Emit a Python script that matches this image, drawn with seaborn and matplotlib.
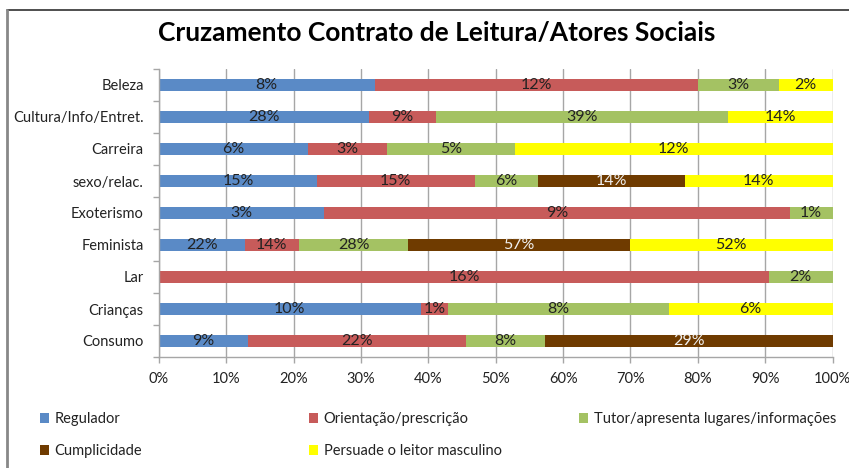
import numpy as np
import pandas as pd
import matplotlib
matplotlib.use("Agg")
import matplotlib.pyplot as plt
from matplotlib.lines import Line2D
from matplotlib.patches import Patch
import seaborn as sns

# Categories (top to bottom) and the share of each social actor, in %
categorias = ["Beleza", "Cultura/Info/Entret.", "Carreira", "sexo/relac.", "Exoterismo",
              "Feminista", "Lar", "Crianças", "Consumo"]
series = ["Regulador", "Orientação/prescrição", "Tutor/apresenta lugares/informações",
          "Cumplicidade", "Persuade o leitor masculino"]

regulador    = [8, 28, 5.8, 15, 3.3, 22, 0, 9.6, 9]
orientacao   = [12, 9, 3.1, 15, 9.3, 14, 16.3, 1.0, 22]
tutor        = [3, 39, 5.0, 6, 0.85, 28, 1.7, 8.1, 8]
cumplicidade = [0, 0, 0, 14, 0, 57, 0, 0, 29]
persuade     = [2, 14, 12.4, 14, 0, 52, 0, 6.0, 0]

cores = ["#5A8AC6", "#C75B5A", "#A4C263", "#6F3B00", "#FFFF00"]
cor_texto = ["#222222", "#222222", "#222222", "#F0F0F0", "#222222"]
x_ticks = [0, 10, 20, 30, 40, 50, 60, 70, 80, 90, 100]

valores = np.array([regulador, orientacao, tutor, cumplicidade, persuade], dtype=float)
percent = valores / valores.sum(axis=0) * 100          # each row stacked to 100 %
acumulado = np.cumsum(percent, axis=0)

sns.set_style("white")
plt.rcParams["font.family"] = ["Lato", "DejaVu Sans"]

fig = plt.figure(figsize=(8.49, 4.68), dpi=100)
W, H = 849, 468
ax = fig.add_axes([159 / W, (H - 357) / H, (832.5 - 159) / W, (357 - 69) / H])

# stacked bars: draw the cumulative totals from the last series to the first
for k in range(len(series) - 1, -1, -1):
    df = pd.DataFrame({"categoria": categorias, "acumulado": acumulado[k]})
    sns.barplot(data=df, x="acumulado", y="categoria", order=categorias, orient="h",
                color=cores[k], saturation=1, width=0.4, linewidth=0, ax=ax,
                label=series[k], zorder=2)

# value labels centred in each segment
for k in range(len(series)):
    for i, cat in enumerate(categorias):
        v = valores[k, i]
        if v <= 0:
            continue
        centro = acumulado[k, i] - percent[k, i] / 2
        ax.text(centro, i, f"{v:.0f}%", ha="center", va="center",
                fontsize=11.5, color=cor_texto[k], zorder=3)

ax.set_xlim(0, 100)
ax.set_ylim(len(categorias) - 0.5, -0.5)
ax.set_xticks(x_ticks)
ax.set_xticklabels([f"{t}%" for t in x_ticks])
ax.set_xlabel("")
ax.set_ylabel("")
ax.xaxis.grid(True, color="#A6A6A6", linewidth=1.0, zorder=0)
ax.yaxis.grid(False)
ax.set_axisbelow(True)
for s in ["top", "right"]:
    ax.spines[s].set_visible(False)
for s in ["left", "bottom"]:
    ax.spines[s].set_color("#A6A6A6")
    ax.spines[s].set_linewidth(1.0)

ax.set_yticks(range(len(categorias)))
ax.set_yticklabels(categorias)
ax.set_yticks(np.arange(-0.5, len(categorias)), minor=True)
ax.tick_params(axis="y", which="major", length=0, pad=11, labelsize=10.5, labelcolor="#222222")
ax.tick_params(axis="y", which="minor", length=4.5, width=1, color="#A6A6A6", direction="out")
ax.tick_params(axis="x", which="major", length=4.5, width=1, color="#A6A6A6", direction="out",
               pad=6, labelsize=10.5, labelcolor="#222222")
ax.tick_params(left=True, bottom=True)
ax.tick_params(axis="y", which="minor", left=True)

if ax.get_legend() is not None:
    ax.get_legend().remove()

# title
fig.text(437 / W, 1 - 33 / H, "Cruzamento Contrato de Leitura/Atores Sociais",
         ha="center", va="center", fontsize=19, fontweight="bold", color="black")

# legend laid out in three columns, filled row by row
colunas = [([0, 3], 41), ([1, 4], 310), ([2], 580)]
for idx, x0 in colunas:
    handles = [Patch(facecolor=cores[j], edgecolor="none") for j in idx]
    fig.legend(handles, [series[j] for j in idx], loc="upper left",
               bbox_to_anchor=((x0 - 1) / W, 1 - 412 / H), frameon=False,
               handlelength=0.65, handleheight=0.65, handletextpad=0.35,
               labelspacing=1.25, borderpad=0, borderaxespad=0,
               fontsize=10.5, labelcolor="#222222")

# outer chart frame
fig.add_artist(Line2D([7 / W, 1], [1 - 10 / H, 1 - 10 / H], transform=fig.transFigure,
                      color="#303030", linewidth=1.2))
fig.add_artist(Line2D([7 / W, 7 / W], [0, 1 - 10 / H], transform=fig.transFigure,
                      color="#888888", linewidth=2))

fig.savefig("out.png", dpi=100)
